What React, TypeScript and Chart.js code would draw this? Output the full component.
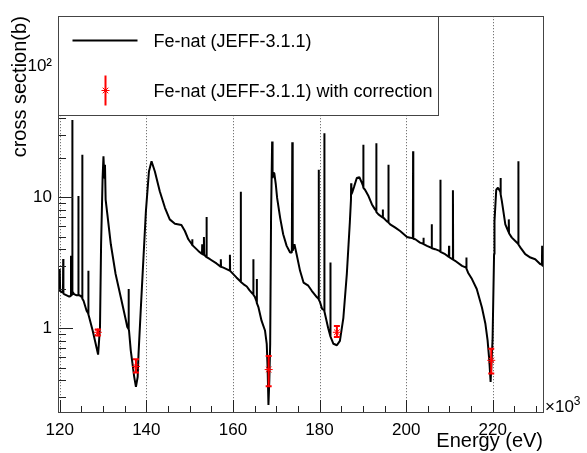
import React, { useEffect, useRef } from 'react';
import { Chart, registerables } from 'chart.js';

Chart.register(...registerables);

// Energy in keV (axis shows x10^3 eV), cross section in barn
const energy = [
  119.6, 119.9, 120.0, 120.1, 120.5, 120.75, 120.8, 120.85, 121.0, 122.2, 122.5, 122.6, 122.85, 122.9, 122.95,
  123.3, 123.9, 124.25, 124.3, 124.35, 124.6, 125.15, 125.2, 125.25, 125.5, 126.2, 126.55, 126.6, 126.65, 126.8,
  127.6, 128.3, 128.86, 129.3, 129.55, 129.9, 130.1, 130.3, 130.45, 130.6, 131.0, 131.8, 132.9, 134.1, 135.3,
  135.6, 135.85, 135.9, 135.95, 136.0, 136.4, 137.2, 137.6, 138.0, 138.2, 138.7, 139.1, 139.9, 140.6, 141.2,
  141.97, 143.1, 144.3, 145.4, 146.6, 148.1, 148.9, 149.7, 150.55, 150.6, 150.65, 150.8, 152.0, 152.85, 152.9,
  153.0, 153.25, 153.3, 153.35, 153.85, 153.9, 153.95, 154.7, 156.2, 157.15, 157.2, 157.25, 157.8, 159.25, 159.3,
  159.35, 160.8, 161.75, 161.8, 161.85, 162.4, 163.2, 163.8, 164.4, 164.65, 164.7, 164.75, 165.1, 165.45, 165.5,
  165.55, 165.9, 166.6, 167.4, 167.8, 168.0, 168.2, 168.4, 168.6, 168.8, 169.05, 169.15, 169.3, 169.55, 169.9,
  170.2, 170.9, 171.6, 172.4, 173.2, 173.6, 173.7, 173.8, 174.2, 174.7, 175.5, 176.3, 177.4, 178.2, 179.4,
  179.75, 179.8, 179.85, 180.1, 180.6, 181.05, 181.1, 181.15, 182.0, 182.45, 182.5, 182.55, 183.2, 184.0, 184.7,
  185.5, 186.3, 187.0, 187.25, 187.3, 187.35, 187.6, 188.0, 188.6, 189.2, 189.8, 190.05, 190.1, 190.15, 190.5,
  191.3, 192.1, 192.8, 193.05, 193.1, 193.15, 193.6, 194.55, 194.6, 194.65, 194.75, 195.5, 195.85, 195.9, 195.95,
  196.3, 197.5, 198.6, 200.2, 200.9, 201.55, 201.6, 201.65, 202.1, 203.2, 203.95, 204.0, 204.05, 204.8, 205.85,
  205.9, 205.95, 206.7, 207.7, 207.85, 207.9, 207.95, 209.0, 209.85, 209.9, 209.95, 210.75, 210.8, 210.85, 211.3,
  212.9, 213.85, 213.9, 213.95, 214.3, 215.2, 216.3, 217.5, 218.3, 218.8, 219.2, 219.5, 219.95, 220.3, 220.4,
  220.8, 221.2, 221.75, 221.8, 221.85, 222.1, 222.9, 223.65, 223.7, 223.75, 224.4, 225.2, 225.85, 225.9, 225.95,
  226.4, 227.5, 228.7, 229.8, 231.0, 231.35, 231.4, 231.45, 231.8,
];
const xsec = [
  1.93, 1.93, 2.83, 1.93, 1.88, 1.88, 3.37, 1.84, 1.82, 1.74, 1.76, 3.57, 1.8, 38.9, 1.9,
  1.82, 1.78, 1.78, 10.2, 1.78, 1.78, 1.72, 21.1, 1.68, 1.62, 1.36, 1.3, 2.74, 1.27, 1.21,
  0.96, 0.76, 0.628, 1.02, 4.37, 14.0, 20.5, 14.0, 17.7, 9.6, 7.39, 4.37, 2.59, 1.72, 1.14,
  1.02, 0.99, 1.99, 0.98, 0.96, 0.677, 0.425, 0.356, 0.425, 0.639, 1.36, 2.44, 7.83, 15.7, 18.8,
  15.7, 11.1, 8.3, 6.77, 6.27, 6.13, 5.52, 4.77, 4.35, 4.77, 4.3, 4.25, 3.89, 3.68, 4.37,
  3.66, 3.64, 4.97, 3.63, 3.5, 7.05, 3.48, 3.36, 3.12, 2.95, 3.36, 2.94, 2.9, 2.75, 3.63,
  2.74, 2.44, 2.27, 11.0, 2.25, 2.17, 2.08, 1.95, 1.85, 1.82, 3.36, 1.8, 1.72, 1.6, 2.37,
  1.55, 1.44, 1.14, 0.96, 0.76, 0.506, 0.259, 0.4, 0.76, 6.96, 26.6, 14.0, 15.3, 15.3, 12.5,
  9.88, 6.96, 5.21, 4.25, 3.78, 3.78, 26.3, 3.9, 4.37, 3.67, 2.74, 2.23, 2.11, 1.93, 1.72,
  1.68, 16.2, 1.65, 1.58, 1.4, 1.37, 30.8, 1.34, 1.0, 0.88, 3.17, 0.86, 0.76, 0.74, 0.8,
  1.2, 2.6, 6.5, 9.5, 12.8, 10.5, 11.0, 12.1, 14.0, 14.2, 12.8, 12.2, 25.1, 11.8, 11.4,
  10.2, 8.81, 8.07, 7.9, 25.8, 7.7, 7.39, 7.0, 8.07, 6.98, 6.96, 6.57, 6.45, 17.7, 6.4,
  6.21, 5.85, 5.52, 4.97, 4.91, 4.85, 22.4, 4.82, 4.77, 4.5, 4.4, 4.91, 4.38, 4.25, 4.1,
  6.21, 4.08, 4.01, 3.89, 3.85, 13.6, 3.83, 3.67, 3.5, 4.25, 3.48, 3.35, 11.3, 3.33, 3.27,
  2.99, 2.9, 3.46, 2.85, 2.65, 2.37, 1.99, 1.44, 1.08, 0.81, 0.568, 0.389, 0.81, 3.67, 6.57,
  11.4, 11.8, 11.0, 14.0, 10.5, 9.33, 6.21, 5.4, 6.77, 5.3, 4.91, 4.63, 4.4, 18.8, 4.35,
  4.12, 3.67, 3.46, 3.36, 3.08, 3.05, 4.25, 3.0, 2.99,
];

const corrEnergy = [128.8, 137.6, 168.25, 184.0, 219.65];
const corrXsec = [0.93, 0.51, 0.483, 0.93, 0.568];
const corrLow = [0.88, 0.458, 0.36, 0.855, 0.45];
const corrHigh = [0.977, 0.578, 0.613, 1.04, 0.697];

const xTickValues = [120, 140, 160, 180, 200, 220];
const xMinorStep = 5;
const yTickValues = [1, 10, 100];
const yTickLabels = ['1', '10', '10²'];
const yMinorValues = [0.3, 0.4, 0.5, 0.6, 0.7, 0.8, 0.9, 2, 3, 4, 5, 6, 7, 8, 9, 20, 30, 40, 50, 60, 70, 80, 90, 200];

const legendLabels = ['Fe-nat (JEFF-3.1.1)', 'Fe-nat (JEFF-3.1.1) with correction'];
const xTitle = 'Energy (eV)';
const yTitle = 'cross section(b)';

const FONT = '"Liberation Sans", Arial, Helvetica, sans-serif';

const decorPlugin = {
  id: 'rootDecor',
  beforeDatasetsDraw(chart: any) {
    const { ctx, chartArea, scales } = chart;
    const xs = scales.x;
    ctx.save();
    ctx.strokeStyle = '#555';
    ctx.lineWidth = 1;
    ctx.setLineDash([1, 2]);
    for (const v of xTickValues) {
      const px = Math.round(xs.getPixelForValue(v)) + 0.5;
      ctx.beginPath();
      ctx.moveTo(px, chartArea.top);
      ctx.lineTo(px, chartArea.bottom);
      ctx.stroke();
    }
    ctx.restore();
  },
  afterDatasetsDraw(chart: any) {
    const { ctx, chartArea, scales } = chart;
    const xs = scales.x;
    const ys = scales.y;
    ctx.save();
    // error bars
    ctx.strokeStyle = '#ff0000';
    ctx.lineWidth = 2;
    for (let i = 0; i < corrEnergy.length; i++) {
      const px = xs.getPixelForValue(corrEnergy[i]);
      const y1 = ys.getPixelForValue(corrLow[i]);
      const y2 = ys.getPixelForValue(corrHigh[i]);
      ctx.beginPath();
      ctx.moveTo(px, y1);
      ctx.lineTo(px, y2);
      ctx.moveTo(px - 3, y1);
      ctx.lineTo(px + 3, y1);
      ctx.moveTo(px - 3, y2);
      ctx.lineTo(px + 3, y2);
      ctx.stroke();
    }
    // ticks
    ctx.strokeStyle = '#222';
    ctx.lineWidth = 1;
    ctx.beginPath();
    for (const v of yTickValues) {
      const py = Math.round(ys.getPixelForValue(v)) + 0.5;
      ctx.moveTo(chartArea.left, py);
      ctx.lineTo(chartArea.left + 15, py);
    }
    for (const v of yMinorValues) {
      const py = Math.round(ys.getPixelForValue(v)) + 0.5;
      if (py < chartArea.top || py > chartArea.bottom) continue;
      ctx.moveTo(chartArea.left, py);
      ctx.lineTo(chartArea.left + 8, py);
    }
    const xmin = xs.min;
    const xmax = xs.max;
    for (let v = Math.ceil(xmin / xMinorStep) * xMinorStep; v <= xmax; v += xMinorStep) {
      const px = Math.round(xs.getPixelForValue(v)) + 0.5;
      const len = xTickValues.includes(v) ? 12 : 6;
      ctx.moveTo(px, chartArea.bottom);
      ctx.lineTo(px, chartArea.bottom - len);
    }
    ctx.stroke();
    // frame
    ctx.strokeStyle = '#444';
    ctx.strokeRect(Math.round(chartArea.left) + 0.5, Math.round(chartArea.top) + 0.5,
      Math.round(chartArea.right - chartArea.left), Math.round(chartArea.bottom - chartArea.top));
    // legend box
    const lx = Math.round(chartArea.left) + 0.5;
    const ly = Math.round(chartArea.top) + 0.5;
    const lw = 380;
    const lh = 99;
    ctx.fillStyle = '#ffffff';
    ctx.fillRect(lx, ly, lw, lh);
    ctx.strokeStyle = '#444';
    ctx.strokeRect(lx, ly, lw, lh);
    // legend entry 1: line
    ctx.strokeStyle = '#000';
    ctx.lineWidth = 2;
    ctx.beginPath();
    ctx.moveTo(lx + 14, ly + 24);
    ctx.lineTo(lx + 79, ly + 24);
    ctx.stroke();
    // legend entry 2: error bar + star
    const sx = lx + 47;
    const sy = ly + 74;
    ctx.strokeStyle = '#ff0000';
    ctx.lineWidth = 2;
    ctx.beginPath();
    ctx.moveTo(sx, sy - 15);
    ctx.lineTo(sx, sy + 15);
    ctx.stroke();
    ctx.lineWidth = 1;
    ctx.beginPath();
    const r = 4;
    ctx.moveTo(sx - r, sy); ctx.lineTo(sx + r, sy);
    ctx.moveTo(sx, sy - r); ctx.lineTo(sx, sy + r);
    ctx.moveTo(sx - r * 0.7, sy - r * 0.7); ctx.lineTo(sx + r * 0.7, sy + r * 0.7);
    ctx.moveTo(sx - r * 0.7, sy + r * 0.7); ctx.lineTo(sx + r * 0.7, sy - r * 0.7);
    ctx.stroke();
    ctx.fillStyle = '#000';
    ctx.font = `18px ${FONT}`;
    ctx.textAlign = 'left';
    ctx.textBaseline = 'alphabetic';
    ctx.fillText(legendLabels[0], lx + 95, ly + 30);
    ctx.fillText(legendLabels[1], lx + 95, ly + 80);
    // x10^3
    ctx.font = `17px ${FONT}`;
    const bx = chartArea.right + 2;
    const by = chartArea.bottom;
    ctx.fillText('×10', bx, by);
    const w = ctx.measureText('×10').width;
    ctx.font = `12px ${FONT}`;
    ctx.fillText('3', bx + w, by - 7);
    ctx.restore();
  },
};

export default function App() {
  const canvasRef = useRef<HTMLCanvasElement | null>(null);

  useEffect(() => {
    document.body.style.margin = '0';
    const canvas = canvasRef.current;
    if (!canvas) return;
    const chart = new Chart(canvas, {
      type: 'line',
      data: {
        datasets: [
          {
            label: legendLabels[0],
            data: energy.map((e, i) => ({ x: e, y: xsec[i] })),
            borderColor: '#000000',
            borderWidth: 2,
            borderJoinStyle: 'bevel',
            pointRadius: 0,
            tension: 0,
            fill: false,
            order: 2,
          },
          {
            label: legendLabels[1],
            data: corrEnergy.map((e, i) => ({ x: e, y: corrXsec[i] })),
            showLine: false,
            pointStyle: 'star',
            pointRadius: 4,
            pointBorderColor: '#ff0000',
            pointBackgroundColor: '#ff0000',
            pointBorderWidth: 1,
            borderColor: '#ff0000',
            order: 1,
          },
        ],
      },
      options: {
        responsive: false,
        animation: false,
        events: [],
        layout: { padding: { top: 14, right: 44, left: 0, bottom: 0 } },
        plugins: { legend: { display: false }, tooltip: { enabled: false } },
        scales: {
          x: {
            type: 'linear',
            min: 119.6,
            max: 231.6,
            afterBuildTicks: (s: any) => {
              s.ticks = xTickValues.map((v) => ({ value: v }));
            },
            afterFit: (s: any) => {
              s.height = 41;
            },
            grid: { display: false, drawTicks: false },
            border: { display: false },
            ticks: {
              autoSkip: false,
              maxRotation: 0,
              padding: 8,
              color: '#000',
              font: { family: FONT, size: 17 },
              callback: (v: any) => String(v),
            },
            title: {
              display: true,
              text: xTitle,
              align: 'end',
              color: '#000',
              font: { family: FONT, size: 20 },
              padding: 0,
            },
          },
          y: {
            type: 'logarithmic',
            min: 0.229,
            max: 241,
            afterBuildTicks: (s: any) => {
              s.ticks = yTickValues.map((v) => ({ value: v }));
            },
            afterFit: (s: any) => {
              s.width = 58;
            },
            grid: { display: false, drawTicks: false },
            border: { display: false },
            ticks: {
              autoSkip: false,
              padding: 6,
              color: '#000',
              font: { family: FONT, size: 17 },
              callback: (v: any) => {
                const idx = yTickValues.indexOf(Number(v));
                return idx >= 0 ? yTickLabels[idx] : '';
              },
            },
            title: {
              display: true,
              text: yTitle,
              align: 'end',
              color: '#000',
              font: { family: FONT, size: 20 },
              padding: { top: 8, bottom: 0 },
            },
          },
        },
      },
      plugins: [decorPlugin],
    } as any);
    return () => chart.destroy();
  }, []);

  return (
    <div style={{ width: 587, height: 453, position: 'relative', background: '#fff' }}>
      <canvas ref={canvasRef} width={587} height={453} style={{ display: 'block' }} />
    </div>
  );
}
